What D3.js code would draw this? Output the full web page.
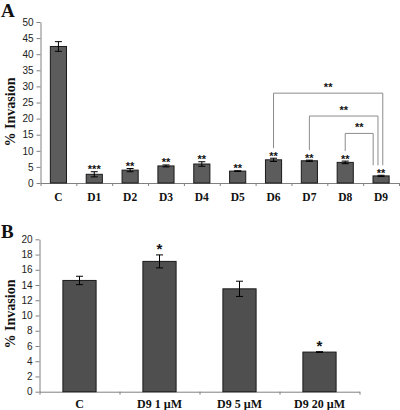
<!DOCTYPE html>
<html><head><meta charset="utf-8">
<script src="https://cdn.jsdelivr.net/npm/d3@7"></script>
<style>body{margin:0;background:#fff}svg{display:block}</style>
</head><body>
<svg id="c" width="400" height="410"></svg>
<script>
// Panel A data
const catsA = ["C","D1","D2","D3","D4","D5","D6","D7","D8","D9"];
const valsA = [42.4, 2.7, 4.0, 5.3, 5.9, 3.7, 7.2, 6.9, 6.4, 2.2];
const errA  = [1.5, 0.8, 0.5, 0.3, 0.7, 0.1, 0.5, 0.2, 0.4, 0.2];
const starsA = ["", "***", "**", "**", "**", "**", "**", "**", "**", "**"];
const ticksA = [0,5,10,15,20,25,30,35,40,45,50];
// comparison brackets (from, to, bracket level in % units, label)
const bracketFrom  = ["D6","D7","D8"];
const bracketTo    = ["D9","D9","D9"];
const bracketLevel = [27.9, 20.8, 15.4];
const bracketLabel = ["**","**","**"];

// Panel B data
const catsB = ["C","D9 1 \u00B5M","D9 5 \u00B5M","D9 20 \u00B5M"];
const valsB = [14.6, 17.1, 13.5, 5.2];
const errB  = [0.55, 0.85, 1.0, 0.05];
const starsB = ["", "*", "", "*"];
const ticksB = [0,2,4,6,8,10,12,14,16,18,20];

const svg = d3.select("#c");
const serif = "'Liberation Serif','Times New Roman',serif";
const sans = "'Liberation Sans',Arial,sans-serif";
const axisCol = "#808080";

function panel(opt){
  const g = svg.append("g");
  const x = d3.scaleBand().domain(opt.cats).range(opt.xr).padding(0);
  const xi = d3.scaleLinear().domain([0, opt.cats.length]).range(opt.xr);
  const y = d3.scaleLinear().domain(opt.yd).range(opt.yr);
  const bw = x.bandwidth()*opt.barRatio;

  // y axis
  const ya = g.append("g").attr("transform",`translate(${opt.xr[0]},0)`)
    .call(d3.axisLeft(y).tickValues(opt.ticks).tickSize(4).tickPadding(3).tickSizeOuter(0));
  ya.select(".domain").attr("stroke",axisCol);
  ya.selectAll(".tick line").attr("stroke",axisCol);
  ya.selectAll(".tick text").attr("font-family",sans).attr("font-size",opt.tickFs).attr("fill","#222");

  // x axis: boundary ticks
  const xa = g.append("g").attr("transform",`translate(0,${opt.yr[0]})`)
    .call(d3.axisBottom(xi).tickValues(d3.range(opt.cats.length+1)).tickSize(3).tickFormat("").tickSizeOuter(0));
  xa.select(".domain").attr("stroke",axisCol);
  xa.selectAll(".tick line").attr("stroke",axisCol);
  // x labels
  const xl = g.append("g").attr("transform",`translate(0,${opt.yr[0]})`)
    .call(d3.axisBottom(x).tickSize(0).tickPadding(opt.labPad));
  xl.select(".domain").remove();
  xl.selectAll(".tick text").attr("font-family",serif).attr("font-weight","bold")
    .attr("font-size",opt.labFs).attr("fill","#111");

  // bars
  g.selectAll("rect.bar").data(opt.vals).join("rect")
    .attr("x",(d,i)=>x(opt.cats[i])+x.bandwidth()/2-bw/2)
    .attr("width",bw)
    .attr("y",d=>y(d))
    .attr("height",d=>y(0)-y(d))
    .attr("fill",opt.fill).attr("stroke","#1a1a1a").attr("stroke-width",1);

  // error bars
  const eb = g.selectAll("g.eb").data(opt.vals).join("g");
  eb.each(function(d,i){
    const cx = x(opt.cats[i])+x.bandwidth()/2;
    const e = opt.errs[i];
    const s = d3.select(this);
    s.append("line").attr("x1",cx).attr("x2",cx).attr("y1",y(d+e)).attr("y2",y(d-e)).attr("stroke","#000");
    s.append("line").attr("x1",cx-opt.cap).attr("x2",cx+opt.cap).attr("y1",y(d+e)).attr("y2",y(d+e)).attr("stroke","#000");
    s.append("line").attr("x1",cx-opt.cap).attr("x2",cx+opt.cap).attr("y1",y(d-e)).attr("y2",y(d-e)).attr("stroke","#000");
  });

  // significance stars
  g.selectAll("text.star").data(opt.stars).join("text")
    .attr("x",(d,i)=>x(opt.cats[i])+x.bandwidth()/2)
    .attr("y",(d,i)=>y(opt.vals[i]+opt.errs[i])+opt.starDy)
    .attr("text-anchor","middle").attr("font-family",sans).attr("font-weight","bold")
    .attr("font-size",opt.starFs).attr("fill","#111").text(d=>d);

  // y title
  g.append("text").attr("transform",`translate(${opt.titleX},${opt.titleY}) rotate(-90)`)
    .attr("text-anchor","middle").attr("font-family",serif).attr("font-weight","bold")
    .attr("font-size",14).attr("fill","#111").text("% Invasion");
  // panel letter
  g.append("text").attr("x",1).attr("y",opt.letterY).attr("font-family",serif).attr("font-weight","bold")
    .attr("font-size",19).attr("fill","#111").text(opt.letter);
  return {g,x,y};
}

const A = panel({cats:catsA, vals:valsA, errs:errA, stars:starsA, ticks:ticksA,
  xr:[40.5,399], yd:[0,50], yr:[183,22], barRatio:0.45, fill:"#5c5c5c", cap:3.5,
  tickFs:10, labFs:11.5, labPad:10, starFs:11, starDy:1.5, titleX:15, titleY:112,
  letter:"A", letterY:17});

// brackets in A
const cxA = c => A.x(c)+A.x.bandwidth()/2;
const topA = c => { const i = catsA.indexOf(c); return A.y(valsA[i]+errA[i]); };
bracketFrom.forEach((f,k)=>{
  const t = bracketTo[k];
  const x1 = cxA(f);
  const x2 = cxA(t) + 1.7 - (k)*4.8;
  const yl = A.y(bracketLevel[k]);
  A.g.append("path")
    .attr("d",`M${x1},${topA(f)-10}V${yl}H${x2}V${topA(t)-10}`)
    .attr("fill","none").attr("stroke","#8c8c8c").attr("stroke-width",1);
  A.g.append("text").attr("x",(x1+x2)/2).attr("y",yl-2)
    .attr("text-anchor","middle").attr("font-family",sans).attr("font-weight","bold")
    .attr("font-size",11).attr("fill","#111").text(bracketLabel[k]);
});

panel({cats:catsB, vals:valsB, errs:errB, stars:starsB, ticks:ticksB,
  xr:[39.5,359.5], yd:[0,20], yr:[391.7,239.3], barRatio:0.415, fill:"#4f4f4f", cap:3.5,
  tickFs:10, labFs:12, labPad:8, starFs:15, starDy:-1, titleX:15, titleY:314,
  letter:"B", letterY:238});
</script>
</body></html>
